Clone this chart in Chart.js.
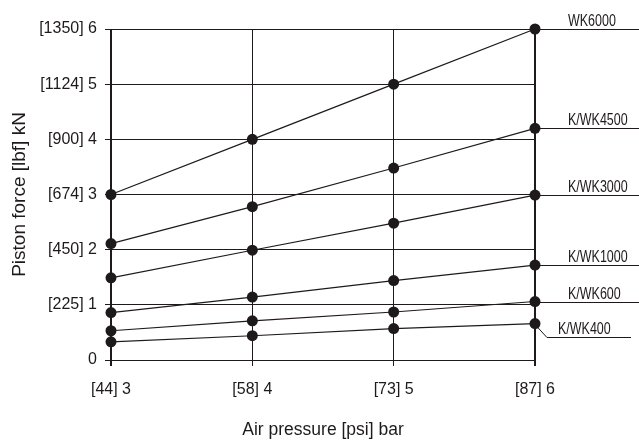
<!DOCTYPE html>
<html>
<head>
<meta charset="utf-8">
<script src="https://cdn.jsdelivr.net/npm/chart.js@4.4.0/dist/chart.umd.min.js"></script>
<style>
  html, body { margin: 0; padding: 0; background: #fff; }
  #wrap { width: 639px; height: 446px; }
</style>
</head>
<body>
<div id="wrap"><canvas id="pistonChart" width="639" height="446"></canvas></div>
<script>
// air pressure in bar, and the psi value shown in brackets
const pressureBar = [3, 4, 5, 6];
const pressurePsi = [44, 58, 73, 87];

// y tick labels: kN and lbf in brackets
const forceKN = [0, 1, 2, 3, 4, 5, 6];
const forceLbf = ['', '225', '450', '674', '900', '1124', '1350'];

// piston force in kN for each model
const seriesNames = ['WK6000', 'K/WK4500', 'K/WK3000', 'K/WK1000', 'K/WK600', 'K/WK400'];
const wk6000 = [3.0, 4.0, 5.0, 6.0];
const kwk4500 = [2.11, 2.78, 3.48, 4.2];
const kwk3000 = [1.49, 1.99, 2.48, 2.99];
const kwk1000 = [0.86, 1.14, 1.44, 1.72];
const kwk600 = [0.53, 0.71, 0.87, 1.06];
const kwk400 = [0.33, 0.44, 0.57, 0.66];

const ink = '#1e1a1b';
const regular = "'Liberation Sans', Arial, sans-serif";

// pixels the leader line drops below the last point (only K/WK400 is bent)
const labelDrop = [0, 0, 0, 0, 0, 13];

const allValues = [wk6000, kwk4500, kwk3000, kwk1000, kwk600, kwk400];

const datasets = allValues.map(function (vals, i) {
    return {
        label: seriesNames[i],
        data: pressureBar.map(function (p, j) { return { x: p, y: vals[j] }; }),
        borderColor: ink,
        backgroundColor: ink,
        borderWidth: 1.2,
        pointRadius: 5.5,
        pointHoverRadius: 5.5,
        pointBackgroundColor: ink,
        pointBorderWidth: 0,
        tension: 0,
        clip: false
    };
});

// draws the model names at the right with their leader lines
const seriesLabels = {
    id: 'seriesLabels',
    afterDatasetsDraw(chart) {
        const c = chart.ctx;
        const xs = chart.scales.x;
        const ys = chart.scales.y;
        const last = pressureBar.length - 1;
        const x0 = xs.getPixelForValue(pressureBar[last]);
        c.save();
        c.strokeStyle = ink;
        c.lineWidth = 1;
        c.fillStyle = ink;
        c.font = '16px ' + regular;
        c.textBaseline = 'alphabetic';
        allValues.forEach(function (vals, i) {
            const y = Math.round(ys.getPixelForValue(vals[last])) + 0.5;
            const drop = labelDrop[i];
            c.beginPath();
            if (drop) {
                c.moveTo(x0, y);
                c.lineTo(x0 + 12, y + drop);
                c.lineTo(631, y + drop);
            } else {
                c.moveTo(x0, y);
                c.lineTo(639, y);
            }
            c.stroke();
            const tx = drop ? x0 + 23 : x0 + 33;
            // squeeze the text sideways, the original uses a condensed face
            c.save();
            c.translate(tx, y + drop - 4);
            c.scale(0.78, 1);
            c.fillText(seriesNames[i], 0, 0);
            c.restore();
        });
        c.restore();
    }
};

new Chart(document.getElementById('pistonChart'), {
    type: 'line',
    data: { datasets: datasets },
    options: {
        responsive: false,
        animation: false,
        events: [],
        layout: { padding: { top: 29, right: 104, left: 0, bottom: 0 } },
        plugins: {
            legend: { display: false },
            tooltip: { enabled: false }
        },
        scales: {
            x: {
                type: 'linear',
                min: 3,
                max: 6,
                afterFit: function (s) { s.height = 86; },
                afterBuildTicks: function (s) {
                    s.ticks = pressureBar.map(function (v) { return { value: v }; });
                },
                border: { display: false },
                grid: {
                    color: ink,
                    lineWidth: function (ctx) {
                        return (ctx.tick && (ctx.tick.value === 3 || ctx.tick.value === 6)) ? 2 : 1;
                    },
                    tickLength: 6,
                    drawTicks: true
                },
                ticks: {
                    color: ink,
                    padding: 14,
                    font: { family: regular, size: 16 },
                    callback: function (v) {
                        const i = pressureBar.indexOf(v);
                        return '[' + pressurePsi[i] + '] ' + v;
                    }
                },
                title: {
                    display: true,
                    text: 'Air pressure [psi] bar',
                    color: ink,
                    font: { family: regular, size: 17.5 },
                    padding: { top: 0, bottom: 5 }
                }
            },
            y: {
                min: 0,
                max: 6,
                afterFit: function (s) { s.width = 111; },
                afterBuildTicks: function (s) {
                    s.ticks = forceKN.map(function (v) { return { value: v }; });
                },
                border: { display: false },
                grid: {
                    color: ink,
                    lineWidth: 1,
                    tickLength: 6,
                    drawTicks: true
                },
                ticks: {
                    color: ink,
                    padding: 8,
                    font: { family: regular, size: 16 },
                    callback: function (v) {
                        const i = forceKN.indexOf(v);
                        return forceLbf[i] ? '[' + forceLbf[i] + '] ' + v : '' + v;
                    }
                },
                title: {
                    display: true,
                    text: 'Piston force [lbf] kN',
                    color: ink,
                    font: { family: regular, size: 19 },
                    padding: { top: 8, bottom: 0 }
                }
            }
        }
    },
    plugins: [seriesLabels]
});
</script>
</body>
</html>
